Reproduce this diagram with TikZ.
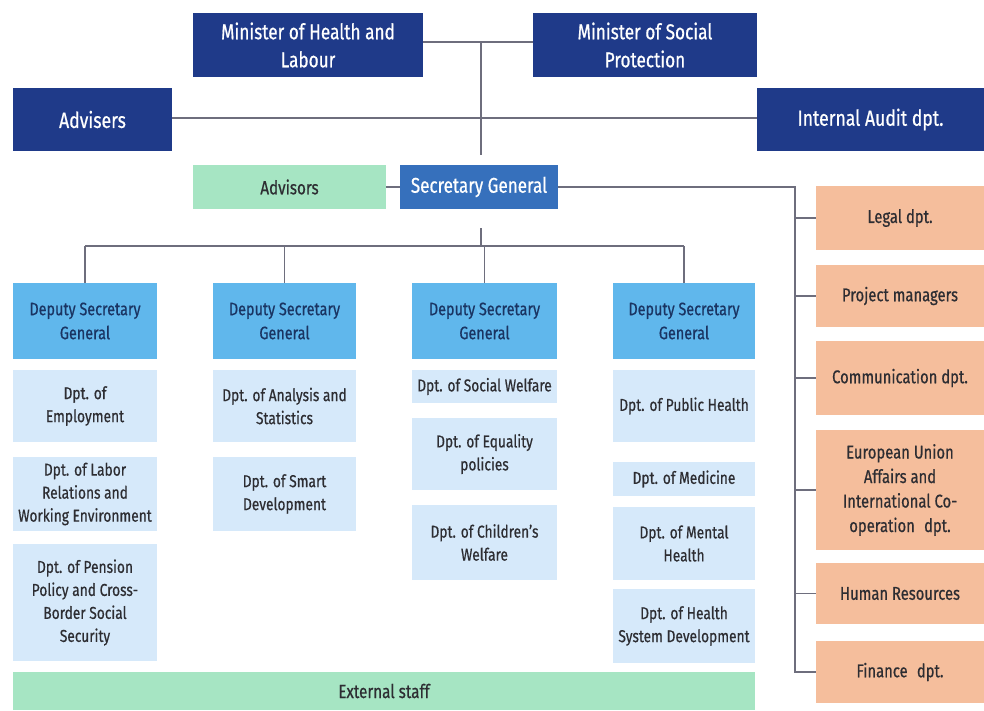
\documentclass[tikz,border=0pt]{standalone}
\usepackage{fontspec}
\setmainfont[FakeStretch=0.8,FakeBold=0.6]{Fira Sans}
\definecolor{navy}{RGB}{31,58,137}
\definecolor{sgblue}{RGB}{54,112,188}
\definecolor{depblue}{RGB}{96,183,236}
\definecolor{deptbg}{RGB}{214,233,250}
\definecolor{greenbg}{RGB}{166,229,195}
\definecolor{orangebg}{RGB}{245,190,156}
\definecolor{linegray}{RGB}{110,110,125}
\definecolor{deptxt}{RGB}{26,52,98}
\definecolor{darktxt}{RGB}{45,45,50}
\tikzset{
  box/.style={rectangle, inner sep=1pt, align=center, anchor=center},
  topbox/.style={box, fill=navy, text=white, font=\fontsize{21.5}{28}\selectfont},
  advbox/.style={box, fill=navy, text=white, font=\fontsize{22}{28}\selectfont},
  sgbox/.style={box, fill=sgblue, text=white, font=\fontsize{21.3}{26}\selectfont},
  depbox/.style={box, fill=depblue, text=deptxt, font=\fontsize{18}{24}\selectfont},
  deptbox/.style={box, fill=deptbg, text=darktxt, font=\fontsize{17.2}{23}\selectfont},
  greenbox/.style={box, fill=greenbg, text=darktxt, font=\fontsize{19}{24}\selectfont},
  orbox/.style={box, fill=orangebg, text=darktxt, font=\fontsize{18.5}{24.5}\selectfont},
  conn/.style={draw=linegray, line width=1.1pt}
}
\begin{document}
\begin{tikzpicture}[x=1pt,y=-1pt]
\useasboundingbox (0,0) rectangle (984,710);
% top level
\node[topbox, minimum width=230pt, minimum height=64pt] (mhl) at (308,45) {Minister of Health and\\Labour};
\node[topbox, minimum width=224pt, minimum height=64pt] (msp) at (645,45) {Minister of Social\\Protection};
\node[advbox, minimum width=159pt, minimum height=63pt] (adv) at (92.5,119.5) {Advisers};
\node[advbox, minimum width=227pt, minimum height=63pt] (audit) at (870.5,119.5) {Internal Audit dpt.};
\node[greenbox, minimum width=193pt, minimum height=44pt] (advs) at (289.5,187) {Advisors};
\node[sgbox, minimum width=158pt, minimum height=44pt] (sg) at (479,187) {Secretary General};
% deputies
\node[depbox, minimum width=144pt, minimum height=76pt] (d1) at (85,321) {Deputy Secretary\\General};
\node[depbox, minimum width=143pt, minimum height=76pt] (d2) at (284.5,321) {Deputy Secretary\\General};
\node[depbox, minimum width=145pt, minimum height=76pt] (d3) at (484.5,321) {Deputy Secretary\\General};
\node[depbox, minimum width=142pt, minimum height=76pt] (d4) at (684,321) {Deputy Secretary\\General};
% departments column 1
\node[deptbox, minimum width=144pt, minimum height=72pt] (e1) at (85,406) {Dpt. of\\Employment};
\node[deptbox, minimum width=144pt, minimum height=74pt] (e2) at (85,494) {Dpt. of Labor\\Relations and\\Working Environment};
\node[deptbox, minimum width=144pt, minimum height=117pt] (e3) at (85,602.5) {Dpt. of Pension\\Policy and Cross-\\Border Social\\Security};
% column 2
\node[deptbox, minimum width=143pt, minimum height=72pt] (s1) at (284.5,406) {Dpt. of Analysis and\\Statistics};
\node[deptbox, minimum width=143pt, minimum height=74pt] (s2) at (284.5,494) {Dpt. of Smart\\Development};
% column 3
\node[deptbox, minimum width=145pt, minimum height=33pt] (w1) at (484.5,386.5) {Dpt. of Social Welfare};
\node[deptbox, minimum width=145pt, minimum height=72pt] (w2) at (484.5,454) {Dpt. of Equality\\policies};
\node[deptbox, minimum width=145pt, minimum height=75pt] (w3) at (484.5,542.5) {Dpt. of Children’s\\Welfare};
% column 4
\node[deptbox, minimum width=142pt, minimum height=72pt] (h1) at (684,406) {Dpt. of Public Health};
\node[deptbox, minimum width=142pt, minimum height=34pt] (h2) at (684,479) {Dpt. of Medicine};
\node[deptbox, minimum width=142pt, minimum height=73pt] (h3) at (684,543.5) {Dpt. of Mental\\Health};
\node[deptbox, minimum width=142pt, minimum height=74pt] (h4) at (684,626) {Dpt. of Health\\System Development};
% external staff
\node[greenbox, minimum width=742pt, minimum height=38pt] (ext) at (384,691) {External staff};
% right column
\node[orbox, minimum width=168pt, minimum height=64pt] (legal) at (900,218) {Legal dpt.};
\node[orbox, minimum width=168pt, minimum height=62pt] (proj) at (900,296) {Project managers};
\node[orbox, minimum width=168pt, minimum height=74pt] (comm) at (900,378) {Communication dpt.};
\node[orbox, minimum width=168pt, minimum height=120pt] (eu) at (900,490) {European Union\\Affairs and\\International Co-\\operation\enspace dpt.};
\node[orbox, minimum width=168pt, minimum height=61pt] (hr) at (900,593.5) {Human Resources};
\node[orbox, minimum width=168pt, minimum height=62pt] (fin) at (900,672) {Finance\enspace dpt.};
% connectors
\coordinate (j1) at (481,42);
\coordinate (j2) at (481,246);
\coordinate (rx) at (795,187);
\draw[conn] (mhl.east |- j1) -- (msp.west |- j1);
\draw[conn] (j1) -- (j1 |- sg.north) [shorten >=10pt];
\draw[conn] (adv.east |- 0,118) -- (audit.west |- 0,118);
\draw[conn] (advs.east) -- (sg.west);
\draw[conn] (sg.east) -- (rx) -- (rx |- fin.west) -- (fin.west);
\foreach \n in {legal,proj,comm,eu,hr}{\draw[conn] (rx |- \n.west) -- (\n.west);}
\draw[conn, shorten <=19pt] (j2 |- sg.south) -- (j2);
\draw[conn] (d1.north |- j2) -- (d4.north |- j2);
\foreach \n in {d1,d2,d3,d4}{\draw[conn] (\n.north |- j2) -- (\n.north);}
\end{tikzpicture}
\end{document}
